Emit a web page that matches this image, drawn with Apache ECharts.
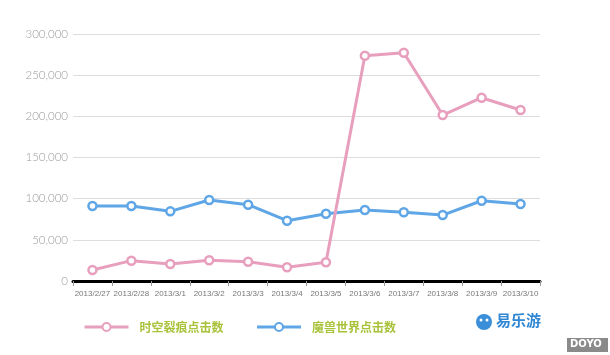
<!DOCTYPE html>
<html><head><meta charset="utf-8">
<script src="https://cdn.jsdelivr.net/npm/echarts@6/dist/echarts.min.js"></script>
<style>html,body{margin:0;padding:0;background:#fff}#c{width:610px;height:355px}</style>
</head><body><div id="c"></div>
<script>
const categories = ['2013/2/27','2013/2/28','2013/3/1','2013/3/2','2013/3/3','2013/3/4','2013/3/5','2013/3/6','2013/3/7','2013/3/8','2013/3/9','2013/3/10'];
const riftName = '时空裂痕点击数';
const riftValues = [13400, 24700, 20600, 25100, 23400, 16600, 22700, 273600, 277300, 201600, 222600, 207700];
const wowName = '魔兽世界点击数';
const wowValues = [91100, 91000, 84600, 98400, 92700, 73200, 81700, 86200, 83400, 80100, 97500, 93500];
const yTicks = [0, 50000, 100000, 150000, 200000, 250000, 300000];

const chart = echarts.init(document.getElementById('c'));
const fmt = v => v.toString().replace(/\B(?=(\d{3})+(?!\d))/g, ',');
chart.setOption({
  animation: false,
  grid: {left: 73, right: 70, top: 34, bottom: 74},
  legend: {
    left: 78, top: 316, itemWidth: 44, itemHeight: 10, itemGap: 32,
    data: [riftName, wowName],
    lineStyle: {width: 3},
    textStyle: {color: '#a8c23a', fontSize: 12, fontWeight: 'bold', padding: [0,0,0,6], fontFamily: 'Noto Sans CJK SC'}
  },
  xAxis: {
    type: 'category', data: categories, boundaryGap: true,
    axisLine: {lineStyle: {color: '#000', width: 3}},
    axisTick: {show: true, length: 5, lineStyle: {color: '#999'}},
    axisLabel: {color: '#777', fontSize: 8, margin: 9, interval: 0, fontFamily: 'Liberation Sans'}
  },
  yAxis: {
    type: 'value', min: yTicks[0], max: yTicks[yTicks.length-1], interval: 50000,
    axisLine: {show: false}, axisTick: {show: false},
    splitLine: {lineStyle: {color: '#ddd', width: 1}},
    axisLabel: {color: '#999', fontSize: 11.5, margin: 5, fontFamily: 'Lato', fontWeight: 300, formatter: fmt}
  },
  series: [
    {name: riftName, type: 'line', data: riftValues, symbol: 'circle', symbolSize: 8,
     lineStyle: {color: '#e89fbd', width: 3}, itemStyle: {color: '#fff', borderColor: '#e89fbd', borderWidth: 2.5}, z: 3},
    {name: wowName, type: 'line', data: wowValues, symbol: 'circle', symbolSize: 8,
     lineStyle: {color: '#5fa6e6', width: 3}, itemStyle: {color: '#fff', borderColor: '#5fa6e6', borderWidth: 2.5}, z: 2}
  ],
  graphic: [
    {type: 'circle', shape: {cx: 484, cy: 322, r: 8}, style: {fill: '#3a8fd8'}},
    {type: 'circle', shape: {cx: 481, cy: 320, r: 1.5}, style: {fill: '#fff'}},
    {type: 'circle', shape: {cx: 487, cy: 320, r: 1.5}, style: {fill: '#fff'}},
    {type: 'text', left: 496, top: 313, style: {text: '易乐游', fill: '#2f86d4', font: 'bold 15px "Noto Sans CJK SC"'}},
    {type: 'rect', shape: {x: 567, y: 338, width: 41, height: 14}, style: {fill: '#8a8a8a'}},
    {type: 'text', left: 570, top: 339, style: {text: 'DOYO', fill: '#fff', font: 'bold 10px "DejaVu Sans"'}}
  ]
});
</script></body></html>
